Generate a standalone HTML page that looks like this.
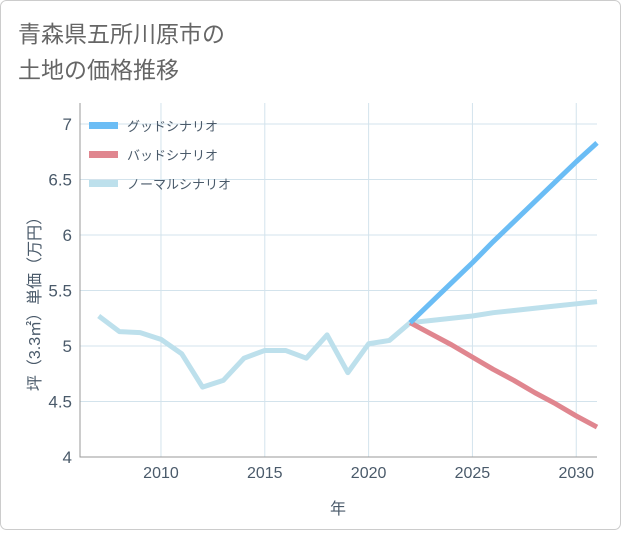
<!DOCTYPE html>
<html><head><meta charset="utf-8"><style>
body{margin:0;background:#fff;font-family:"Liberation Sans","Noto Sans CJK JP",sans-serif;}
#wrap{position:relative;width:621px;height:530px;}
</style></head><body>
<div id="wrap">
<svg id="svg" width="621" height="530" xmlns="http://www.w3.org/2000/svg">
<rect x="0.5" y="0.5" width="620" height="529" rx="6" fill="#fff" stroke="#ccc"/>
<text x="18" y="42" font-size="23" fill="#666">青森県五所川原市の</text>
<text x="18" y="78" font-size="23" fill="#666">土地の価格推移</text>
<g id="grid"></g>
<g id="axes"></g>
<g id="series"></g>
<g id="legend"></g>
</svg>
</div>
<script>
const years=[2007,2008,2009,2010,2011,2012,2013,2014,2015,2016,2017,2018,2019,2020,2021,2022,2023,2024,2025,2026,2027,2028,2029,2030,2031];
const normalValues=[5.27,5.13,5.12,5.06,4.93,4.63,4.69,4.89,4.96,4.96,4.89,5.10,4.76,5.02,5.05,5.21,5.23,5.25,5.27,5.30,5.32,5.34,5.36,5.38,5.40];
const futureYears=[2022,2023,2024,2025,2026,2027,2028,2029,2030,2031];
const goodValues=[5.21,5.39,5.57,5.75,5.94,6.12,6.30,6.48,6.66,6.83];
const badValues=[5.21,5.11,5.01,4.90,4.79,4.69,4.58,4.48,4.37,4.27];
const xTicks=[2010,2015,2020,2025,2030];
const yTicks=[4,4.5,5,5.5,6,6.5,7];
const yTickLabels=["4","4.5","5","5.5","6","6.5","7"];
const legendLabels=["グッドシナリオ","バッドシナリオ","ノーマルシナリオ"];
const colors=["#6bbdf5","#e0868f","#bde0ec"];

const L=80,R=597,T=103,B=457;
const x=v=>L+(v-2006.1)/(2031-2006.1)*(R-L);
const y=v=>B-(v-4)/3*(457-124);
const NS="http://www.w3.org/2000/svg";
function mk(tag,attrs,parent,txt){const e=document.createElementNS(NS,tag);for(const k in attrs)e.setAttribute(k,attrs[k]);if(txt!==undefined)e.textContent=txt;document.getElementById(parent).appendChild(e);return e;}
xTicks.forEach(t=>{const e=mk('line',{x1:x(t),x2:x(t),y1:T,y2:B,stroke:'#d3e3ec'},'grid');


const l=mk('text',{x:x(t),y:478,'text-anchor':'middle','font-size':16,fill:'#4a5a6a'},'axes',t);

});
yTicks.forEach((t,i)=>{const e=mk('line',{x1:L,x2:R,y1:y(t),y2:y(t),stroke:'#d3e3ec'},'grid');


const l=mk('text',{x:72,y:y(t)+6,'text-anchor':'end','font-size':17,fill:'#4a5a6a'},'axes',yTickLabels[i]);

});
const ax=mk('path',{d:`M${L},${T}V${B}H${R}`,fill:'none',stroke:'#999'},'axes');


const xt=mk('text',{x:338,y:514,'text-anchor':'middle','font-size':16,fill:'#4a5a6a'},'axes','年');


const yt=mk('text',{x:0,y:0,'text-anchor':'middle','font-size':16,fill:'#4a5a6a',transform:'translate(40,300) rotate(-90)'},'axes','坪（3.3㎡）単価（万円）');


function line(xs,vs,c,name){const d=xs.map((v,i)=>(i?'L':'M')+x(v)+','+y(vs[i])).join('');
const p=mk('path',{d,fill:'none',stroke:c,'stroke-width':5,'stroke-linejoin':'round'},'series');

}
line(years,normalValues,colors[2],'normal-scenario-line');
line(futureYears,badValues,colors[1],'bad-scenario-line');
line(futureYears,goodValues,colors[0],'good-scenario-line');
legendLabels.forEach((s,i)=>{const yy=126+i*29;
const r=mk('rect',{x:89,y:yy-4,width:29,height:7,fill:colors[i]},'legend');


const t=mk('text',{x:127,y:yy+5,'font-size':13,fill:'#4a5a6a'},'legend',s);

});
</script>
</body></html>
